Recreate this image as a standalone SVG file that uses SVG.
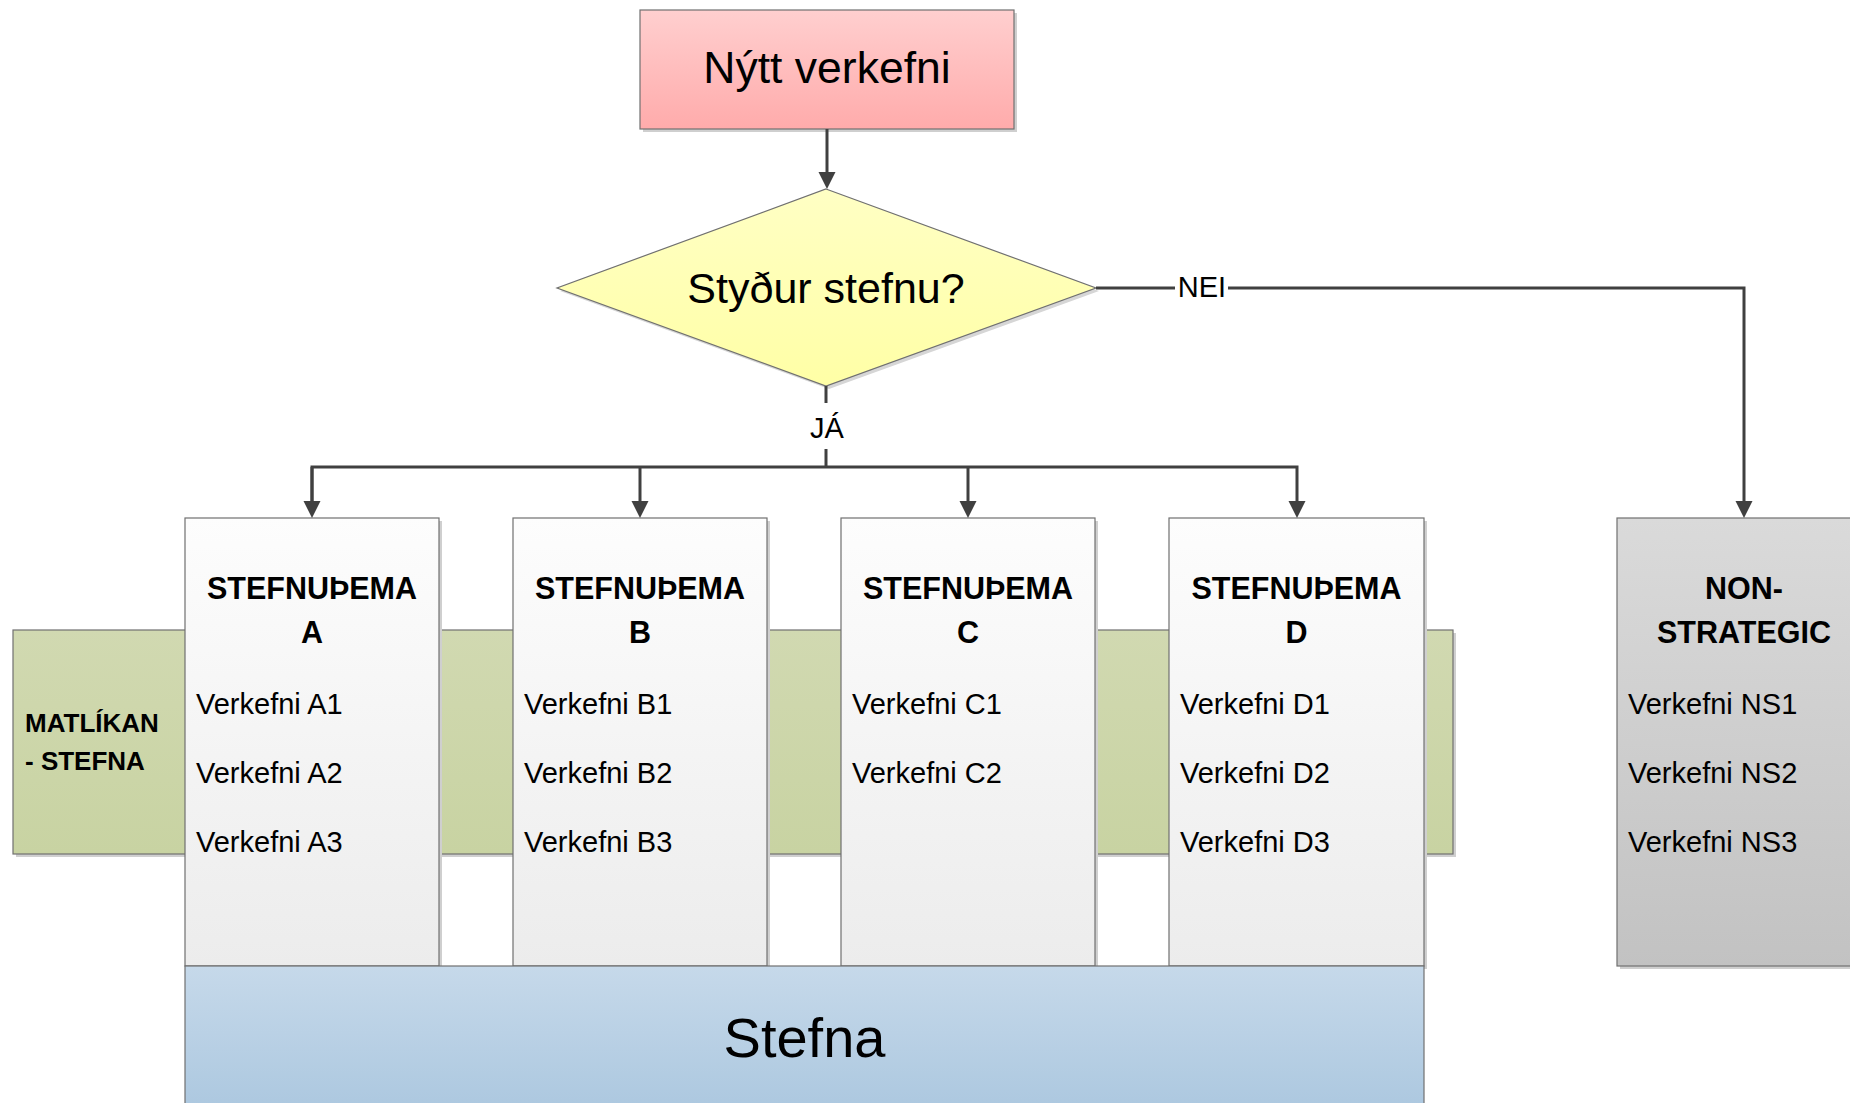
<svg xmlns="http://www.w3.org/2000/svg" width="1850" height="1103" viewBox="0 0 1850 1103">
<style>
  .shape { stroke: #707070; stroke-width: 1.2; }
  .shadow { fill: #cfcfcf; }
  .conn { fill: none; stroke: #404040; stroke-width: 3; }
  text { font-family: "Liberation Sans", Arial, sans-serif; fill: #000; }
  .hdr { font-size: 30.5px; font-weight: bold; text-anchor: middle; }
  .item { font-size: 29px; }
  .lbl { font-size: 29px; text-anchor: middle; }
</style>
<defs>
  <linearGradient id="gPink" x1="0" y1="0" x2="0" y2="1"><stop offset="0" stop-color="#ffcfcf"/><stop offset="1" stop-color="#ffabab"/></linearGradient>
  <linearGradient id="gYellow" x1="0" y1="0" x2="0" y2="1"><stop offset="0" stop-color="#ffffc4"/><stop offset="1" stop-color="#ffffa6"/></linearGradient>
  <linearGradient id="gWhite" x1="0" y1="0" x2="0" y2="1"><stop offset="0" stop-color="#fdfdfd"/><stop offset="1" stop-color="#ececec"/></linearGradient>
  <linearGradient id="gGray" x1="0" y1="0" x2="0" y2="1"><stop offset="0" stop-color="#dadada"/><stop offset="1" stop-color="#c2c2c2"/></linearGradient>
  <linearGradient id="gGreen" x1="0" y1="0" x2="0" y2="1"><stop offset="0" stop-color="#d1d9b1"/><stop offset="1" stop-color="#c8d3a2"/></linearGradient>
  <linearGradient id="gBlue" x1="0" y1="0" x2="0" y2="1"><stop offset="0" stop-color="#c6d9ea"/><stop offset="1" stop-color="#abc7df"/></linearGradient>
  <marker id="arr" markerUnits="userSpaceOnUse" markerWidth="18" markerHeight="18" viewBox="0 0 18 18" refX="8" refY="9" orient="auto">
    <path d="M0,0.5 L17,9 L0,17.5 z" fill="#404040"/>
  </marker>
</defs>

<rect width="1850" height="1103" fill="#ffffff"/>

<!-- Green band -->
<g id="matlikan">
  <rect class="shadow" x="16" y="633" width="1440" height="224"/>
  <rect class="shape" x="13" y="630" width="1440" height="224" fill="url(#gGreen)"/>
  <text x="25" y="732" font-size="26" font-weight="bold">MATLÍKAN</text>
  <text x="25" y="770" font-size="26" font-weight="bold">- STEFNA</text>
</g>

<!-- Top box -->
<g id="nytt">
  <rect class="shadow" x="643" y="13" width="374" height="119"/>
  <rect class="shape" x="640" y="10" width="374" height="119" fill="url(#gPink)"/>
  <text x="827" y="83" font-size="44.5" text-anchor="middle">Nýtt verkefni</text>
</g>

<!-- Decision -->
<g id="decision">
  <polygon points="829,192 1099,291 829,389 560,291" fill="#d6d6d6"/>
  <polygon class="shape" points="826,189 1096,288 826,386 557,288" fill="url(#gYellow)"/>
  <text x="826" y="303" font-size="43" text-anchor="middle">Styður stefnu?</text>
</g>

<!-- Columns -->
<g id="colA">
  <rect class="shadow" x="188" y="521" width="254" height="448"/>
  <rect class="shape" x="185" y="518" width="254" height="448" fill="url(#gWhite)"/>
  <text class="hdr" x="312" y="599">STEFNUÞEMA</text>
  <text class="hdr" x="312" y="643">A</text>
  <text class="item" x="196" y="714">Verkefni A1</text>
  <text class="item" x="196" y="783">Verkefni A2</text>
  <text class="item" x="196" y="852">Verkefni A3</text>
</g>
<g id="colB">
  <rect class="shadow" x="516" y="521" width="254" height="448"/>
  <rect class="shape" x="513" y="518" width="254" height="448" fill="url(#gWhite)"/>
  <text class="hdr" x="640" y="599">STEFNUÞEMA</text>
  <text class="hdr" x="640" y="643">B</text>
  <text class="item" x="524" y="714">Verkefni B1</text>
  <text class="item" x="524" y="783">Verkefni B2</text>
  <text class="item" x="524" y="852">Verkefni B3</text>
</g>
<g id="colC">
  <rect class="shadow" x="844" y="521" width="254" height="448"/>
  <rect class="shape" x="841" y="518" width="254" height="448" fill="url(#gWhite)"/>
  <text class="hdr" x="968" y="599">STEFNUÞEMA</text>
  <text class="hdr" x="968" y="643">C</text>
  <text class="item" x="852" y="714">Verkefni C1</text>
  <text class="item" x="852" y="783">Verkefni C2</text>
</g>
<g id="colD">
  <rect class="shadow" x="1172" y="521" width="255" height="448"/>
  <rect class="shape" x="1169" y="518" width="255" height="448" fill="url(#gWhite)"/>
  <text class="hdr" x="1296.5" y="599">STEFNUÞEMA</text>
  <text class="hdr" x="1296.5" y="643">D</text>
  <text class="item" x="1180" y="714">Verkefni D1</text>
  <text class="item" x="1180" y="783">Verkefni D2</text>
  <text class="item" x="1180" y="852">Verkefni D3</text>
</g>
<g id="colNS">
  <rect class="shadow" x="1620" y="521" width="254" height="448"/>
  <rect class="shape" x="1617" y="518" width="254" height="448" fill="url(#gGray)"/>
  <text class="hdr" x="1744" y="599">NON-</text>
  <text class="hdr" x="1744" y="643">STRATEGIC</text>
  <text class="item" x="1628" y="714">Verkefni NS1</text>
  <text class="item" x="1628" y="783">Verkefni NS2</text>
  <text class="item" x="1628" y="852">Verkefni NS3</text>
</g>

<!-- Stefna -->
<g id="stefna">
  <rect class="shape" x="185" y="966" width="1239" height="150" fill="url(#gBlue)"/>
  <text x="804.5" y="1057" font-size="56" text-anchor="middle">Stefna</text>
</g>

<!-- Connectors -->
<g id="connectors">
  <path class="conn" d="M827,129 V180" marker-end="url(#arr)"/>
  <path class="conn" d="M1096,288 H1175"/>
  <path class="conn" d="M1228,288 H1744 V509" marker-end="url(#arr)"/>
  <path class="conn" d="M826,386 V403"/>
  <path class="conn" d="M826,449 V467"/>
  <path class="conn" d="M312,509 V467 H1297 V509" marker-end="url(#arr)"/>
  <path class="conn" d="M640,467 V509" marker-end="url(#arr)"/>
  <path class="conn" d="M968,467 V509" marker-end="url(#arr)"/>
  <path class="conn" d="M312,467 V509" marker-end="url(#arr)"/>
  <text class="lbl" x="1202" y="297">NEI</text>
  <text class="lbl" x="827" y="438">JÁ</text>
</g>
</svg>
